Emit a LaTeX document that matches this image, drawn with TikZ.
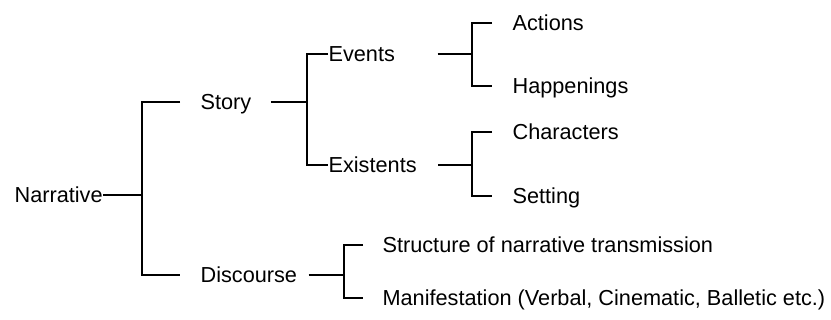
\documentclass[tikz,border=0pt]{standalone}
\usepackage{fontspec}
\setmainfont{Liberation Sans}
\usepackage{tikz}

\begin{document}
\begin{tikzpicture}[x=1pt,y=-1pt,line width=1.2pt,
		term/.style={anchor=west,inner sep=0pt,text height=15.5pt,text depth=0pt,font=\fontsize{21.7}{26}\selectfont}]
	\useasboundingbox (0,0) rectangle (831,320);
	\node[term] (narr) at (14,195) {Narrative};
	\node[term] (story) at (200,102) {Story};
	\node[term] (disc) at (200,275) {Discourse};
	\node[term] (events) at (328,54) {Events};
	\node[term] (exist) at (328,165) {Existents};
	\node[term] (act) at (512,23) {Actions};
	\node[term] (happ) at (512,86) {Happenings};
	\node[term] (char) at (512,132) {Characters};
	\node[term] (sett) at (512,196) {Setting};
	\node[term] (struct) at (382,245) {Structure of narrative transmission};
	\node[term] (manif) at (382,298) {Manifestation (Verbal, Cinematic, Balletic etc.)};
	\coordinate (sp1) at (142,195);
	\coordinate (sp2) at (307,102);
	\coordinate (sp3) at (472,54);
	\coordinate (sp4) at (472,165);
	\coordinate (sp5) at (344,275);
	\draw (narr.east) -- (sp1);
	\draw ([xshift=-20pt]story.west) -| (sp1) |- ([xshift=-20pt]disc.west);
	\draw ([xshift=19pt]story.east) -- (sp2);
	\draw (events.west) -| (sp2) |- (exist.west);
	\draw ([xshift=42pt]events.east) -- (sp3);
	\draw ([xshift=-20pt]act.west) -| (sp3) |- ([xshift=-20pt]happ.west);
	\draw ([xshift=21pt]exist.east) -- (sp4);
	\draw ([xshift=-20pt]char.west) -| (sp4) |- ([xshift=-20pt]sett.west);
	\draw ([xshift=11pt]disc.east) -- (sp5);
	\draw ([xshift=-19pt]struct.west) -| (sp5) |- ([xshift=-19pt]manif.west);
\end{tikzpicture}
\end{document}
